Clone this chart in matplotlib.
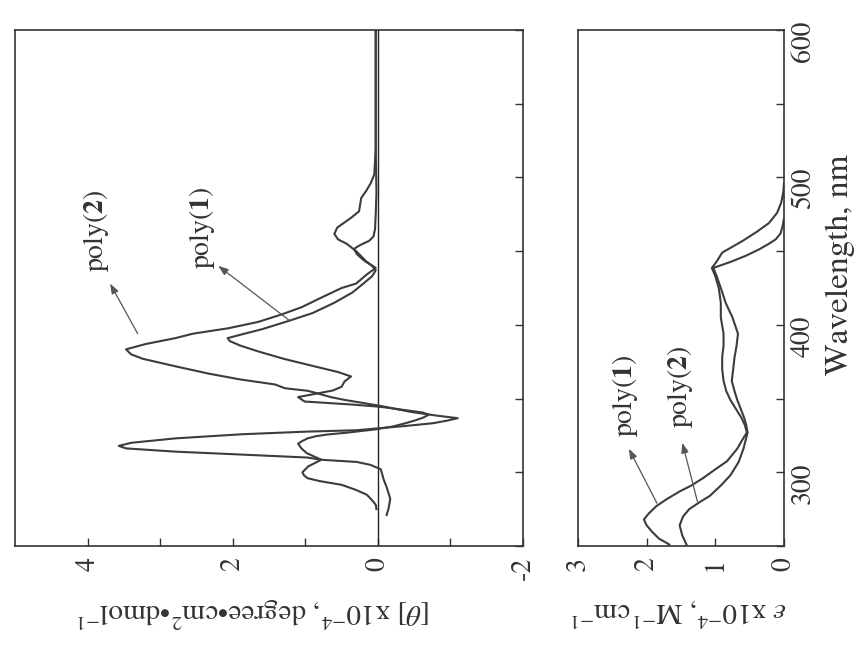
import matplotlib
matplotlib.use("Agg")
import matplotlib.pyplot as plt

plt.rcParams['font.family'] = ['STIXGeneral', 'DejaVu Serif']
plt.rcParams['mathtext.fontset'] = 'stix'
plt.rcParams['axes.unicode_minus'] = False

# CD spectra, [theta] x 1e-4 vs wavelength (nm)
cd1_wl = [275, 278, 281, 284.7, 288, 291.5, 294, 296, 298, 300, 302, 304, 306, 308.5,
          310.5, 313, 316, 319.4, 321, 323, 324.5, 325.6, 327, 328, 329, 331, 333, 335,
          337, 339, 340.5, 342, 344, 344.6, 346, 348, 351, 353.5, 355.5, 358, 361.6, 365,
          368, 373, 377, 382, 386, 389, 391, 393.6, 397, 402.5, 408, 415, 422, 428, 433,
          437, 440, 444, 448, 451.5, 454, 457, 460, 465, 475, 490, 520, 560, 600]
cd1_val = [0.02, 0.03, 0.08, 0.15, 0.3, 0.5, 0.8, 0.97, 1.02, 1.04, 1.0, 0.96, 0.88, 0.78,
           0.87, 0.98, 1.05, 1.1, 1.05, 0.97, 0.85, 0.7, 0.4, 0.23, 0.05, -0.2, -0.36, -0.5,
           -0.62, -0.7, -0.62, -0.4, -0.1, 0.01, 0.37, 1.01, 1.1, 0.83, 0.62, 0.5, 0.46, 0.37,
           0.55, 0.97, 1.3, 1.65, 1.9, 2.04, 2.07, 1.87, 1.6, 1.24, 0.9, 0.6, 0.35, 0.2, 0.08,
           0.03, 0.08, 0.2, 0.29, 0.33, 0.25, 0.12, 0.06, 0.04, 0.03, 0.02, 0.03, 0.03, 0.03]

cd2_wl = [271, 276, 282, 290, 295, 302, 305, 307, 308.5, 310, 312, 314, 316.2, 317.9,
          320, 323, 325.8, 327.6, 328.5, 329.8, 331.5, 333.3, 335, 336.7, 338.5, 341,
          344.6, 347, 349, 351, 353.5, 355.3, 357, 359.6, 363, 367, 372, 377, 380, 383.4,
          387, 391, 394, 397.7, 402, 407, 412, 418, 425, 428, 434.3, 438.6, 443, 450, 455,
          458, 461.7, 466, 472.6, 477, 486, 491, 496, 502, 520, 560, 600]
cd2_val = [-0.12, -0.15, -0.17, -0.12, -0.08, -0.04, 0.1, 0.29, 0.78, 0.97, 1.87, 2.79,
           3.47, 3.57, 3.4, 2.79, 1.87, 0.97, 0.3, 0.0, -0.4, -0.76, -0.95, -1.1, -0.8,
           -0.45, -0.08, 0.2, 0.45, 0.65, 0.83, 0.97, 1.28, 1.42, 1.9, 2.34, 2.8, 3.24, 3.4,
           3.47, 3.2, 2.79, 2.55, 2.06, 1.65, 1.33, 1.05, 0.8, 0.5, 0.3, 0.15, 0.03, 0.16,
           0.3, 0.43, 0.55, 0.6, 0.56, 0.37, 0.26, 0.23, 0.16, 0.1, 0.05, 0.03, 0.03, 0.03]

# UV-vis absorption, epsilon x 1e-4
abs1_wl = [251, 255, 259.6, 264, 268, 272, 277, 282, 287, 291, 296, 302, 307.5, 316,
           321, 327, 332, 337, 343, 349, 355, 362, 370, 378, 386, 394, 405, 415, 425, 433,
           438.6, 443, 449, 453, 457, 463, 469, 476, 483, 490, 496]
abs1_val = [1.67, 1.82, 1.92, 2.0, 2.04, 1.97, 1.86, 1.7, 1.52, 1.35, 1.18, 1.0, 0.83,
            0.68, 0.62, 0.54, 0.57, 0.62, 0.7, 0.78, 0.84, 0.88, 0.9, 0.9, 0.88, 0.88,
            0.92, 0.92, 0.95, 1.0, 1.05, 0.98, 0.9, 0.75, 0.6, 0.4, 0.22, 0.1, 0.04, 0.01, 0.0]

abs2_wl = [251, 257, 264, 270, 275, 280, 284, 291, 298, 307, 316, 327, 332, 337, 343,
           349, 355, 362, 370, 378, 386, 394, 405, 415, 425, 433, 438.6, 443, 447, 451,
           455, 458, 462, 467, 472]
abs2_val = [1.42, 1.48, 1.52, 1.47, 1.38, 1.22, 1.08, 0.92, 0.78, 0.66, 0.59, 0.53, 0.55,
            0.58, 0.63, 0.68, 0.72, 0.76, 0.74, 0.72, 0.69, 0.67, 0.75, 0.85, 0.92, 0.98,
            1.03, 0.76, 0.55, 0.37, 0.22, 0.12, 0.05, 0.02, 0.0]

ink = '#3c3c3c'

fig = plt.figure(figsize=(8.68, 6.51), dpi=100)
ax1 = fig.add_axes([0.0173, 0.1613, 0.5853, 0.7926])
ax2 = fig.add_axes([0.6659, 0.1613, 0.2373, 0.7926])

ax1.axvline(0, color='#222222', lw=1.0)
ax1.plot(cd1_val, cd1_wl, color=ink, lw=1.5)
ax1.plot(cd2_val, cd2_wl, color=ink, lw=1.5)

ax2.plot(abs1_val, abs1_wl, color=ink, lw=1.5)
ax2.plot(abs2_val, abs2_wl, color=ink, lw=1.5)

ax1.set_xlim(5, -2)
ax2.set_xlim(3, 0)
for ax in (ax1, ax2):
    ax.set_ylim(250, 600)
    ax.set_yticks(range(250, 601, 50))
    ax.tick_params(direction='in', length=6, width=1, color='#333333',
                   bottom=True, top=False, left=False, right=True,
                   labelleft=False, labelsize=20, labelcolor='#333333')
    ax.tick_params(axis='x', labelrotation=90, pad=8)
    for s in ax.spines.values():
        s.set_color('#333333')
        s.set_linewidth(1.2)

ax1.set_xticks([4, 2, 0, -2])
ax1.set_xticks([3, 1, -1], minor=True)
ax1.tick_params(axis='x', which='minor', direction='in', length=6, width=1,
                color='#333333')
ax1.tick_params(axis='y', labelright=False)

ax2.set_xticks([3, 2, 1, 0])
ax2.set_yticks(range(250, 601, 50))
ax2.set_yticklabels(['', '300', '', '400', '', '500', '', '600'])
ax2.tick_params(axis='y', labelright=True, labelrotation=90, pad=5)

ax1.text(0.47, -0.128,
         r'[$\theta$] x10$^{-4}$, degree$\bullet$cm$^{2}$$\bullet$dmol$^{-1}$',
         transform=ax1.transAxes, rotation=180, ha='center', va='center',
         fontsize=21, color='#333333')
ax2.text(0.49, -0.128, r'$\varepsilon$ x10$^{-4}$, M$^{-1}$cm$^{-1}$',
         transform=ax2.transAxes, rotation=180, ha='center', va='center',
         fontsize=21, color='#333333')
ax2.text(1.272, 0.545, 'Wavelength, nm', transform=ax2.transAxes, rotation=90,
         ha='center', va='center', fontsize=24, color='#333333')

arrow = dict(arrowstyle='-|>,head_length=0.6,head_width=0.22', color='#555555',
             lw=0.9, shrinkA=0, shrinkB=0)

ax1.text(3.88, 464, r'poly($\mathbf{2}$)', rotation=90, ha='center', va='center',
         fontsize=20, color='#333333')
ax1.annotate('', xy=(3.69, 428), xytext=(3.31, 394), arrowprops=arrow)
ax1.text(2.43, 466, r'poly($\mathbf{1}$)', rotation=90, ha='center', va='center',
         fontsize=20, color='#333333')
ax1.annotate('', xy=(2.2, 440), xytext=(1.22, 403), arrowprops=arrow)

ax2.text(2.32, 352, r'poly($\mathbf{1}$)', rotation=90, ha='center', va='center',
         fontsize=20, color='#333333')
ax2.annotate('', xy=(2.26, 316), xytext=(1.85, 279), arrowprops=arrow)
ax2.text(1.52, 358, r'poly($\mathbf{2}$)', rotation=90, ha='center', va='center',
         fontsize=20, color='#333333')
ax2.annotate('', xy=(1.48, 320), xytext=(1.26, 280), arrowprops=arrow)

fig.savefig('out.png', dpi=100, facecolor='white')
